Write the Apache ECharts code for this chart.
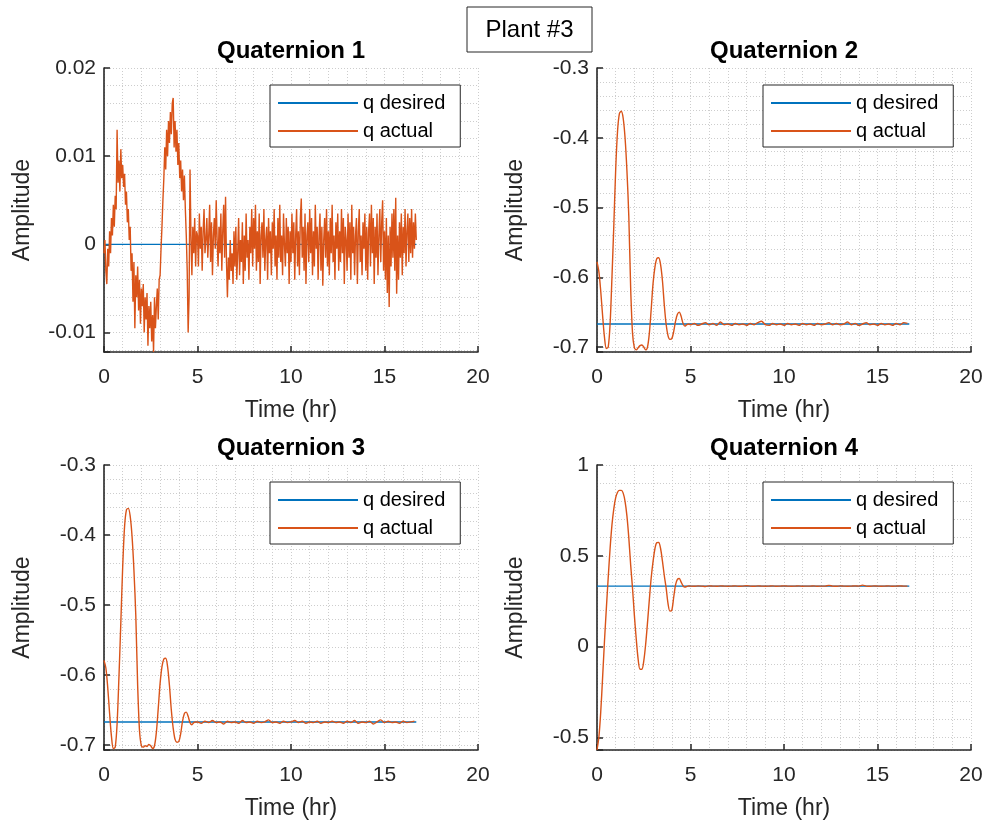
<!DOCTYPE html>
<html><head><meta charset="utf-8">
<script src="https://cdn.jsdelivr.net/npm/echarts@6/dist/echarts.min.js"></script>
<style>html,body{margin:0;padding:0;background:#fff}#c{width:988px;height:827px}</style>
</head><body><div id="c"></div><script>
// ---- data ----
const figureTitle = 'Plant #3';
const panelTitles = ['Quaternion 1', 'Quaternion 2', 'Quaternion 3', 'Quaternion 4'];
const seriesNames = ['q desired', 'q actual'];
const xTicks = [0, 5, 10, 15, 20];
const yLimits = [[-0.0122, 0.02], [-0.7071, -0.3], [-0.7071, -0.3], [-0.57, 1]];
const yTickSteps = [0.01, 0.1, 0.1, 0.5];
const desiredValues = [0, -0.667, -0.667, 0.333];
const desiredTimes = [0, 16.7];
const q1Step = 0.05;       // hr, sample spacing of quaternion 1
const fineStep = 0.1;      // hr, sample spacing of the transients (q2..q4)
const tailStart = 5.0;     // hr
const tailStep = 0.2;      // hr

const q1Actual = [
-0.0010,0.0005,-0.0030,-0.0045,-0.0005,-0.0025,0.0015,-0.0010,0.0030,0.0010,
0.0045,0.0020,0.0055,0.0040,0.0130,0.0070,0.0095,0.0060,0.0108,0.0075,
0.0090,0.0065,0.0080,0.0045,0.0060,0.0025,0.0040,0.0005,0.0020,-0.0030,
-0.0010,-0.0065,-0.0020,-0.0095,-0.0035,-0.0060,-0.0025,-0.0075,-0.0040,-0.0090,
-0.0050,-0.0070,-0.0045,-0.0100,-0.0060,-0.0085,-0.0055,-0.0115,-0.0070,-0.0095,
-0.0065,-0.0110,-0.0080,-0.0122,-0.0060,-0.0095,-0.0070,-0.0050,-0.0085,-0.0040,
-0.0035,-0.0005,0.0020,0.0050,0.0075,0.0110,0.0085,0.0130,0.0100,0.0140,
0.0115,0.0150,0.0125,0.0160,0.0166,0.0110,0.0140,0.0105,0.0130,0.0090,
0.0115,0.0075,0.0095,0.0060,0.0085,0.0050,0.0078,0.0040,0.0010,-0.0030,
-0.0100,-0.0060,0.0085,0.0010,-0.0035,0.0020,-0.0010,0.0030,-0.0025,0.0015,
0.0010,-0.0025,0.0035,-0.0005,0.0020,-0.0030,0.0015,0.0040,-0.0010,0.0005,
0.0030,-0.0015,0.0010,0.0045,-0.0020,0.0025,-0.0035,0.0010,0.0030,-0.0005,
0.0050,0.0005,-0.0025,0.0020,-0.0010,0.0035,-0.0030,0.0015,0.0045,-0.0015,
0.0054,-0.0020,-0.0060,-0.0015,-0.0040,0.0005,-0.0030,-0.0010,-0.0045,0.0015,
-0.0025,0.0020,-0.0040,-0.0010,0.0030,-0.0035,0.0005,-0.0020,0.0025,-0.0045,
0.0010,-0.0030,0.0035,-0.0015,0.0005,-0.0040,0.0020,-0.0010,0.0040,-0.0025,
0.0030,-0.0005,0.0045,-0.0030,0.0015,-0.0020,0.0035,-0.0045,0.0010,0.0025,
-0.0015,0.0040,-0.0030,0.0005,0.0020,-0.0040,0.0030,-0.0010,0.0015,-0.0035,
0.0025,-0.0005,0.0040,-0.0025,0.0010,-0.0040,0.0030,-0.0015,0.0045,-0.0020,
0.0010,-0.0035,0.0035,0.0000,-0.0025,0.0030,-0.0010,0.0020,-0.0045,0.0015,
-0.0020,0.0035,-0.0010,0.0025,-0.0040,0.0010,0.0040,-0.0025,0.0015,-0.0035,
0.0030,0.0052,-0.0015,0.0020,-0.0030,0.0035,-0.0045,0.0010,0.0025,-0.0020,
0.0040,-0.0010,0.0030,-0.0035,0.0015,-0.0025,0.0045,-0.0005,0.0020,-0.0040,
0.0010,0.0035,-0.0030,0.0020,-0.0047,0.0005,0.0030,-0.0015,0.0040,-0.0025,
0.0015,-0.0035,0.0030,-0.0010,0.0045,-0.0020,0.0010,-0.0040,0.0025,-0.0005,
0.0035,-0.0030,0.0015,-0.0020,0.0040,-0.0010,0.0030,-0.0045,0.0020,0.0005,
-0.0030,0.0035,-0.0015,0.0025,-0.0040,0.0045,-0.0010,0.0020,-0.0035,0.0010,
0.0030,-0.0045,0.0015,0.0040,-0.0020,0.0010,-0.0035,0.0025,-0.0005,0.0035,
-0.0030,0.0020,-0.0040,0.0015,0.0035,-0.0025,0.0045,-0.0010,0.0030,-0.0045,
0.0020,-0.0015,0.0035,-0.0035,0.0010,0.0040,-0.0020,0.0025,0.0050,-0.0030,
0.0015,-0.0040,0.0030,-0.0055,0.0010,-0.0071,0.0020,-0.0025,0.0035,-0.0015,
0.0040,-0.0030,0.0053,-0.0056,0.0010,-0.0040,0.0025,-0.0015,0.0035,-0.0035,
0.0020,-0.0010,0.0040,-0.0025,0.0015,0.0035,-0.0020,0.0030,-0.0010,0.0040,
-0.0015,0.0025,-0.0005,0.0035,0.0005
];

const q2Transient = [
-0.578,-0.592,-0.620,-0.655,-0.686,-0.702,-0.700,-0.667,-0.600,-0.525,
-0.445,-0.390,-0.365,-0.362,-0.372,-0.400,-0.447,-0.512,-0.615,-0.680,
-0.701,-0.704,-0.701,-0.698,-0.697,-0.700,-0.704,-0.700,-0.680,-0.645,
-0.608,-0.585,-0.573,-0.572,-0.582,-0.605,-0.640,-0.668,-0.684,-0.689,
-0.688,-0.678,-0.663,-0.653,-0.650,-0.656,-0.666,-0.670,-0.668,-0.667
];
const q2Tail = [
-0.668,-0.666,-0.669,-0.667,-0.665,-0.668,-0.666,-0.669,-0.664,-0.668,
-0.667,-0.669,-0.666,-0.668,-0.667,-0.669,-0.666,-0.668,-0.665,-0.663,
-0.668,-0.669,-0.666,-0.668,-0.667,-0.669,-0.666,-0.668,-0.667,-0.669,
-0.666,-0.668,-0.667,-0.669,-0.666,-0.668,-0.667,-0.665,-0.668,-0.666,
-0.668,-0.667,-0.664,-0.668,-0.666,-0.669,-0.667,-0.665,-0.668,-0.667,
-0.669,-0.666,-0.668,-0.667,-0.669,-0.666,-0.668,-0.665,-0.666
];
const q3Transient = [
-0.579,-0.590,-0.618,-0.655,-0.688,-0.705,-0.703,-0.670,-0.602,-0.525,
-0.445,-0.388,-0.364,-0.362,-0.373,-0.402,-0.450,-0.515,-0.615,-0.680,
-0.701,-0.703,-0.701,-0.702,-0.699,-0.701,-0.705,-0.701,-0.682,-0.648,
-0.612,-0.588,-0.577,-0.576,-0.588,-0.615,-0.650,-0.676,-0.692,-0.696,
-0.695,-0.684,-0.666,-0.655,-0.653,-0.659,-0.668,-0.671,-0.668,-0.667
];
const q3Tail = [
-0.667,-0.669,-0.666,-0.668,-0.665,-0.668,-0.667,-0.670,-0.666,-0.668,
-0.667,-0.669,-0.665,-0.668,-0.667,-0.669,-0.666,-0.668,-0.667,-0.664,
-0.668,-0.667,-0.669,-0.666,-0.668,-0.667,-0.665,-0.668,-0.666,-0.669,
-0.667,-0.668,-0.666,-0.669,-0.667,-0.668,-0.666,-0.668,-0.667,-0.669,
-0.666,-0.668,-0.665,-0.669,-0.667,-0.668,-0.666,-0.670,-0.667,-0.664,
-0.668,-0.666,-0.668,-0.667,-0.669,-0.666,-0.668,-0.667,-0.666
];
const q4Transient = [
-0.57,-0.50,-0.36,-0.17,0.03,0.21,0.38,0.54,0.67,0.76,
0.82,0.85,0.86,0.86,0.845,0.80,0.72,0.60,0.45,0.32,
0.17,0.04,-0.07,-0.125,-0.125,-0.08,0.01,0.13,0.26,0.38,
0.47,0.54,0.572,0.573,0.54,0.47,0.39,0.32,0.235,0.195,
0.200,0.27,0.34,0.37,0.375,0.355,0.335,0.327,0.331,0.334
];
const q4Tail = [
0.333,0.332,0.334,0.333,0.331,0.334,0.333,0.332,0.334,0.333,
0.332,0.333,0.334,0.332,0.333,0.335,0.333,0.332,0.334,0.333,
0.332,0.333,0.334,0.332,0.333,0.334,0.333,0.332,0.333,0.334,
0.332,0.333,0.333,0.334,0.332,0.333,0.333,0.337,0.333,0.332,
0.334,0.333,0.332,0.333,0.334,0.333,0.338,0.333,0.332,0.334,
0.333,0.332,0.333,0.334,0.332,0.333,0.334,0.333,0.333
];

// ---- build ----
function stepped(vals, dt, t0) { return vals.map((v, i) => [+((t0 || 0) + i * dt).toFixed(3), v]); }
function withTail(trans, tail) { return stepped(trans, fineStep, 0).concat(stepped(tail, tailStep, tailStart)); }
const actualData = [stepped(q1Actual, q1Step, 0), withTail(q2Transient, q2Tail), withTail(q3Transient, q3Tail), withTail(q4Transient, q4Tail)];

const FONT = '"Liberation Sans", Arial, Helvetica, sans-serif';
const AX = '#262626';
const BLUE = '#0072BD', ORANGE = '#D95319';
const grids = [
  {left: 104, top: 68, width: 374, height: 284},
  {left: 597, top: 68, width: 374, height: 284},
  {left: 104, top: 465, width: 374, height: 285},
  {left: 597, top: 465, width: 374, height: 285}
];
const legendPos = [[270, 85], [763, 85], [270, 482], [763, 482]];
const gridLine = {show: true, lineStyle: {color: '#cdcdcd', type: [1, 2], width: 1}};

function fmt(step) {
  return function (v) {
    const k = v / step;
    if (Math.abs(k - Math.round(k)) > 1e-6) return '';
    return String(+(Math.round(k) * step).toFixed(4));
  };
}

const xAxes = [], yAxes = [], series = [], legends = [], graphics = [];
grids.forEach((g, i) => {
  xAxes.push({
    type: 'value', gridIndex: i, min: xTicks[0], max: xTicks[xTicks.length - 1], interval: xTicks[1] - xTicks[0],
    name: 'Time (hr)', nameLocation: 'middle', nameGap: 47,
    nameTextStyle: {fontFamily: FONT, fontSize: 23, color: AX},
    axisLine: {show: true, onZero: false, lineStyle: {color: AX, width: 1.6}},
    axisTick: {show: true, inside: true, length: 6, lineStyle: {color: AX, width: 1.5}},
    axisLabel: {fontFamily: FONT, fontSize: 21, color: AX, margin: 15},
    splitLine: gridLine,
    minorTick: {show: false, splitNumber: 5},
    minorSplitLine: gridLine
  });
  const step = yTickSteps[i];
  const lim = yLimits[i];
  yAxes.push({
    type: 'value', gridIndex: i, min: lim[0], max: lim[1],
    splitNumber: Math.round((lim[1] - lim[0]) / step),
    name: 'Amplitude', nameLocation: 'middle', nameGap: 70,
    nameTextStyle: {fontFamily: FONT, fontSize: 23, color: AX},
    axisLine: {show: true, onZero: false, lineStyle: {color: AX, width: 1.6}},
    axisTick: {show: true, inside: true, length: 6, lineStyle: {color: AX, width: 1.5}},
    axisLabel: {fontFamily: FONT, fontSize: 21, color: AX, margin: 8, formatter: fmt(step), showMinLabel: true, showMaxLabel: true},
    splitLine: gridLine,
    minorTick: {show: false, splitNumber: 5},
    minorSplitLine: gridLine
  });
  series.push({
    name: seriesNames[0], type: 'line', xAxisIndex: i, yAxisIndex: i, symbol: 'none',
    data: desiredTimes.map(t => [t, desiredValues[i]]),
    lineStyle: {color: BLUE, width: 1.4}, itemStyle: {color: BLUE}, z: 2
  });
  series.push({
    name: seriesNames[1], type: 'line', xAxisIndex: i, yAxisIndex: i, symbol: 'none',
    data: actualData[i], smooth: i === 0 ? false : 0.3,
    lineStyle: {color: ORANGE, width: 1.4}, itemStyle: {color: ORANGE}, z: 3
  });
  legends.push({
    data: seriesNames.map(n => ({name: n, icon: 'rect'})), orient: 'vertical', left: legendPos[i][0], top: legendPos[i][1],
    itemWidth: 80, itemHeight: 2, itemGap: 8, padding: [8, 15, 6, 8],
    backgroundColor: '#fff', borderColor: AX, borderWidth: 1, borderRadius: 0,
    textStyle: {fontFamily: FONT, fontSize: 20, lineHeight: 20, color: '#000'}, selectedMode: false
  });
  graphics.push({
    type: 'text', x: g.left + g.width / 2, y: g.top - 17, z: 10,
    style: {text: panelTitles[i], font: 'bold 24px ' + FONT, fill: '#000', textAlign: 'center', textVerticalAlign: 'middle'}
  });
});
graphics.push({type: 'rect', shape: {x: 467, y: 7, width: 125, height: 45}, style: {fill: '#fff', stroke: AX, lineWidth: 1}, z: 10});
graphics.push({type: 'text', x: 529.5, y: 30, z: 11,
  style: {text: figureTitle, font: '24px ' + FONT, fill: '#000', textAlign: 'center', textVerticalAlign: 'middle'}});

const chart = echarts.init(document.getElementById('c'), null, {renderer: 'canvas'});
chart.setOption({
  animation: false, backgroundColor: '#fff',
  grid: grids, xAxis: xAxes, yAxis: yAxes, series: series, legend: legends, graphic: graphics
});
</script></body></html>
